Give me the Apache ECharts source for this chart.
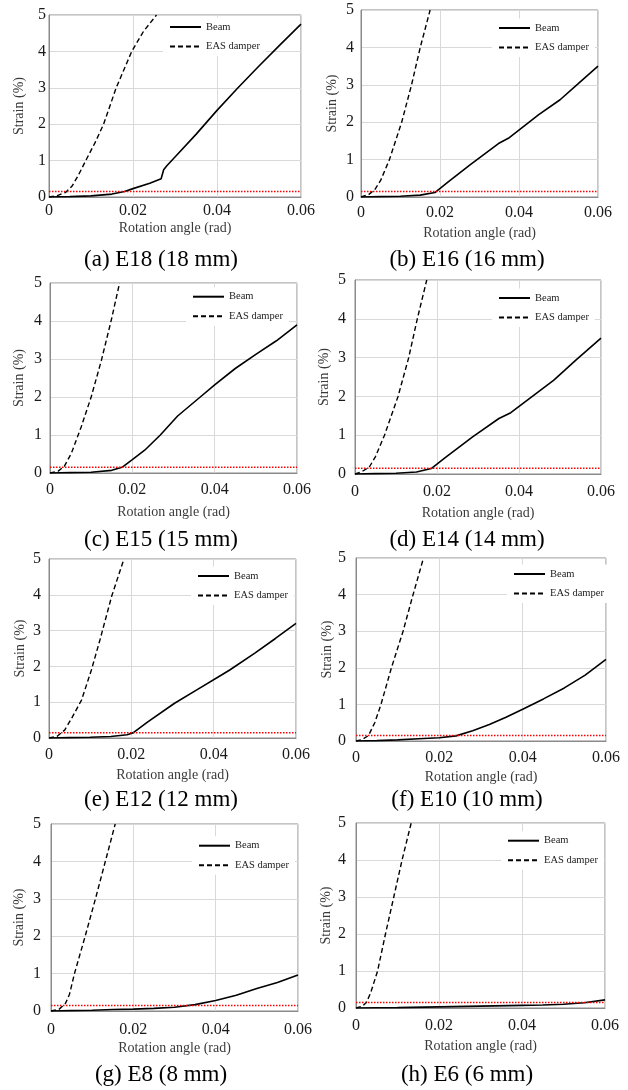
<!DOCTYPE html>
<html><head><meta charset="utf-8">
<script src="https://cdn.jsdelivr.net/npm/echarts@6/dist/echarts.min.js"></script>
<style>html,body{margin:0;padding:0;background:#fff}#c{width:628px;height:1090px}</style>
</head><body><div id="c"></div>
<script>
// ---------- data ----------
const captions = ['(a) E18 (18 mm)', '(b) E16 (16 mm)', '(c) E15 (15 mm)', '(d) E14 (14 mm)',
                  '(e) E12 (12 mm)', '(f) E10 (10 mm)', '(g) E8 (8 mm)', '(h) E6 (6 mm)'];
const seriesNames = ['Beam', 'EAS damper'];
const xAxisTitle = 'Rotation angle (rad)';
const yAxisTitle = 'Strain (%)';
const xRange = [0, 0.06, 0.02];   // min, max, interval
const yRange = [0, 5, 1];
const yieldStrain = 0.15;

const beamA = [[0,0],[0.005,0.01],[0.01,0.03],[0.015,0.08],[0.018,0.15],[0.02,0.23],[0.024,0.38],[0.0267,0.5],[0.0273,0.75],[0.028,0.85],[0.03,1.1],[0.035,1.72],[0.04,2.38],[0.045,3.0],[0.05,3.6],[0.055,4.18],[0.06,4.75]];
const damperA = [[0,0],[0.002,0.04],[0.004,0.13],[0.0055,0.3],[0.007,0.6],[0.00875,1],[0.011,1.5],[0.013,2],[0.016,3],[0.0197,4],[0.0225,4.55],[0.0256,5]];
const beamB = [[0,0],[0.005,0.01],[0.01,0.02],[0.015,0.05],[0.0187,0.12],[0.022,0.4],[0.0276,0.86],[0.0348,1.43],[0.0373,1.57],[0.045,2.2],[0.0504,2.6],[0.055,3.03],[0.06,3.5]];
const damperB = [[0,0],[0.002,0.07],[0.0035,0.2],[0.005,0.45],[0.0072,1],[0.0103,2],[0.0128,3],[0.015,4],[0.0175,5]];
const beamC = [[0,0],[0.005,0.01],[0.01,0.02],[0.015,0.07],[0.0175,0.15],[0.02,0.35],[0.023,0.6],[0.0268,1.0],[0.031,1.5],[0.0365,2.0],[0.04,2.32],[0.045,2.75],[0.05,3.12],[0.055,3.48],[0.06,3.9]];
const damperC = [[0,0],[0.002,0.05],[0.0035,0.18],[0.0052,0.52],[0.0076,1.22],[0.01,2.0],[0.0125,2.97],[0.0149,4.03],[0.0169,5]];
const beamD = [[0,0],[0.005,0.01],[0.01,0.02],[0.015,0.05],[0.0186,0.14],[0.022,0.42],[0.0266,0.79],[0.0286,0.95],[0.0351,1.43],[0.038,1.58],[0.0485,2.42],[0.054,2.95],[0.06,3.5]];
const damperD = [[0,0],[0.0015,0.05],[0.0035,0.18],[0.005,0.45],[0.0072,1],[0.0105,2],[0.0131,3],[0.0152,4],[0.0175,5]];
const beamE = [[0,0],[0.005,0.01],[0.01,0.02],[0.015,0.04],[0.019,0.09],[0.0205,0.15],[0.024,0.45],[0.0305,0.97],[0.036,1.35],[0.0419,1.76],[0.0439,1.9],[0.05,2.37],[0.055,2.78],[0.06,3.2]];
const damperE = [[0,0],[0.002,0.05],[0.0038,0.22],[0.0055,0.55],[0.0079,1.06],[0.0103,1.9],[0.0124,2.75],[0.0152,3.95],[0.0182,5]];
const beamF = [[0,0],[0.005,0.01],[0.01,0.03],[0.015,0.06],[0.02,0.09],[0.024,0.14],[0.028,0.28],[0.032,0.45],[0.036,0.65],[0.04,0.87],[0.045,1.15],[0.05,1.45],[0.055,1.8],[0.06,2.23]];
const damperF = [[0,0],[0.0015,0.04],[0.003,0.15],[0.0045,0.5],[0.006,1],[0.0085,2],[0.0113,3],[0.0137,4],[0.0162,5]];
const beamG = [[0,0],[0.005,0.01],[0.01,0.02],[0.015,0.04],[0.02,0.05],[0.025,0.07],[0.03,0.1],[0.035,0.17],[0.04,0.28],[0.045,0.42],[0.05,0.6],[0.055,0.76],[0.06,0.96]];
const damperG = [[0,0],[0.002,0.05],[0.0035,0.2],[0.0045,0.45],[0.0057,1],[0.0083,2],[0.0108,3],[0.0132,4],[0.0156,5]];
const beamH = [[0,0],[0.005,0.005],[0.01,0.01],[0.02,0.03],[0.03,0.05],[0.04,0.07],[0.045,0.08],[0.05,0.1],[0.055,0.14],[0.06,0.22]];
const damperH = [[0,0],[0.0015,0.05],[0.0025,0.15],[0.0035,0.4],[0.0052,1],[0.0071,2],[0.0091,3],[0.0111,4],[0.0133,5]];

const beamData = [beamA, beamB, beamC, beamD, beamE, beamF, beamG, beamH];
const damperData = [damperA, damperB, damperC, damperD, damperE, damperF, damperG, damperH];

// ---------- layout (pixels) ----------
const gridBoxes = [
  [49, 15, 252, 182], [361, 10, 237, 187],
  [50, 283, 247, 190], [355, 280, 246, 194],
  [49, 559, 247, 179], [356, 558, 250, 183],
  [51, 824, 247, 187], [356, 823, 249, 185]
];
const yLabelMargins = [3, 7, 8, 9, 8, 10, 10, 10];
const xLabelMargins = [6, 8, 9, 10, 9, 9, 11, 10];
const yNameGaps = [23, 22, 24, 24, 22, 21, 25, 23];
const xNameGaps = [24, 29, 32, 32, 30, 29, 30, 31];
const legendPos = [[169, 27], [498, 28], [192, 296.7], [498, 298], [197, 576], [513, 574], [198, 845.7], [507, 840.7]];
const captionPos = [[161, 260], [467, 260], [161, 540], [467, 540], [161, 800], [467, 800], [161, 1075], [467, 1075]];

const FONT = "'Liberation Serif', 'Times New Roman', serif";

const option = { animation: false, backgroundColor: '#fff',
  grid: [], xAxis: [], yAxis: [], series: [], legend: [], graphic: [] };

for (let i = 0; i < 8; i++) {
  const g = gridBoxes[i];
  option.grid.push({ left: g[0], top: g[1], width: g[2], height: g[3], show: true,
    borderColor: '#8a8a8a', borderWidth: 1, backgroundColor: 'transparent', containLabel: false });
  option.xAxis.push({ type: 'value', gridIndex: i, min: xRange[0], max: xRange[1], interval: xRange[2],
    name: xAxisTitle, nameLocation: 'middle', nameGap: xNameGaps[i],
    nameTextStyle: { fontFamily: FONT, fontSize: 14, color: '#3a3a3a' },
    axisLine: { show: true, onZero: false, lineStyle: { color: '#8a8a8a', width: 1 } },
    axisTick: { show: false },
    axisLabel: { fontFamily: FONT, fontSize: 16, color: '#1a1a1a', margin: xLabelMargins[i] },
    splitLine: { show: true, lineStyle: { color: '#d9d9d9', width: 1 } } });
  option.yAxis.push({ type: 'value', gridIndex: i, min: yRange[0], max: yRange[1], interval: yRange[2],
    name: yAxisTitle, nameLocation: 'middle', nameGap: yNameGaps[i], nameRotate: 90,
    nameTextStyle: { fontFamily: FONT, fontSize: 14, color: '#3a3a3a' },
    axisLine: { show: true, onZero: false, lineStyle: { color: '#8a8a8a', width: 1 } },
    axisTick: { show: false },
    axisLabel: { fontFamily: FONT, fontSize: 16, color: '#1a1a1a', margin: yLabelMargins[i] },
    splitLine: { show: true, lineStyle: { color: '#d9d9d9', width: 1 } } });

  option.series.push({ type: 'line', name: seriesNames[0], xAxisIndex: i, yAxisIndex: i,
    data: beamData[i], symbol: 'none', clip: true, z: 3,
    lineStyle: { color: '#000', width: 1.6 }, itemStyle: { color: '#000' } });
  option.series.push({ type: 'line', name: seriesNames[1], xAxisIndex: i, yAxisIndex: i,
    data: damperData[i], symbol: 'none', clip: true, z: 3,
    lineStyle: { color: '#000', width: 1.4, type: [5, 3] }, itemStyle: { color: '#000' } });
  option.series.push({ type: 'line', name: 'Yield strain', xAxisIndex: i, yAxisIndex: i,
    data: [[xRange[0], yieldStrain], [xRange[1], yieldStrain]], symbol: 'none', clip: true, z: 4,
    lineStyle: { color: '#ff0000', width: 1.5, type: [1.5, 1.5] }, itemStyle: { color: '#ff0000' } });

  const lp = legendPos[i];
  option.legend.push({ data: seriesNames, orient: 'vertical', left: lp[0] - 6, top: lp[1] - 5.5 - 4,
    itemWidth: 31, itemHeight: 11, itemGap: 8.5, padding: [4, 6, 4, 6], backgroundColor: '#fff',
    selectedMode: false, z: 2,
    itemStyle: { opacity: 0, color: 'rgba(0,0,0,0)', borderWidth: 0 },
    textStyle: { fontFamily: FONT, fontSize: 10.5, color: '#222' } });

  const cp = captionPos[i];
  option.graphic.push({ type: 'text', x: cp[0], y: cp[1], silent: true,
    style: { text: captions[i], fill: '#000', font: '23px ' + FONT, textAlign: 'center', textVerticalAlign: 'middle' } });
}

const chart = echarts.init(document.getElementById('c'), null, { renderer: 'canvas' });
chart.setOption(option);
</script>
</body></html>
